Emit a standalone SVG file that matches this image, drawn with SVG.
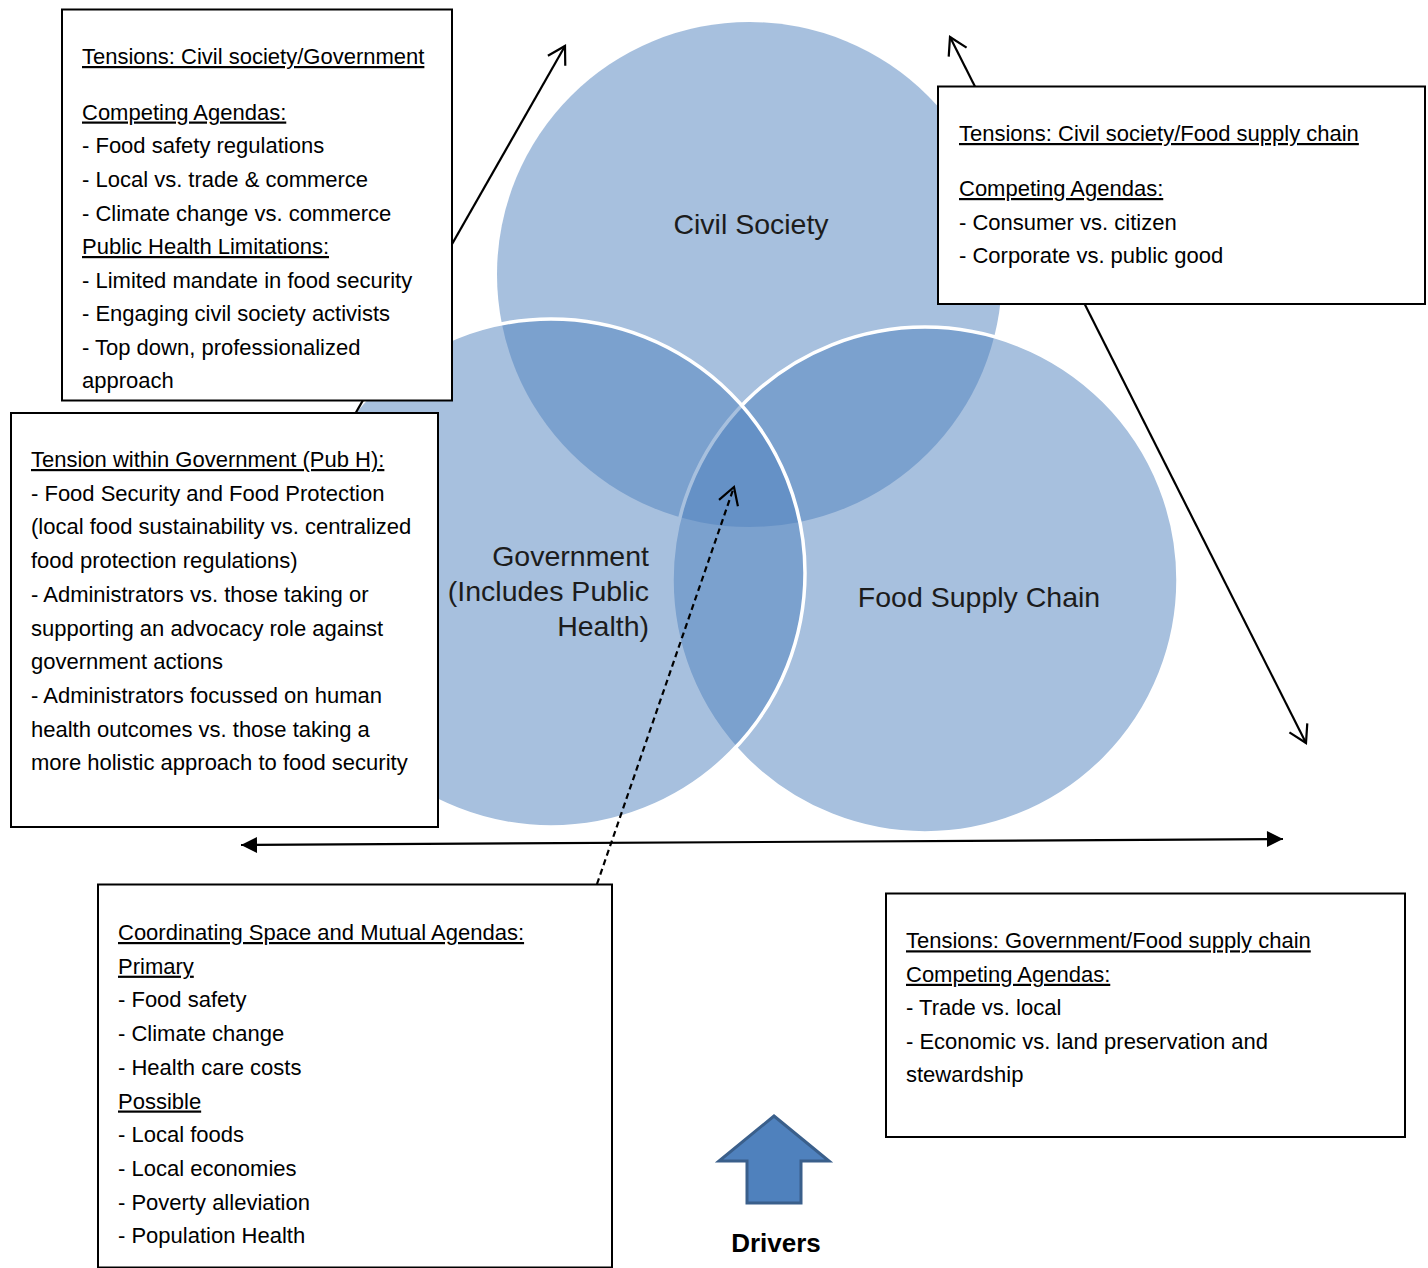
<svg xmlns="http://www.w3.org/2000/svg" width="1428" height="1268" viewBox="0 0 1428 1268">
  <style>
    .venn { fill: #4F81BD; fill-opacity: 0.5; }
    .outl { stroke: #FFFFFF; stroke-width: 3.5; }
    .clabel { font-family: "Liberation Sans", Arial, sans-serif; font-size: 28.5px; fill: #1C1C1C; }
    .box { fill: #FFFFFF; stroke: #000000; stroke-width: 2; }
    .t { font-family: "Liberation Sans", Arial, sans-serif; font-size: 22px; fill: #000000; }
    .u { text-decoration: underline; }
    .conn { fill: none; stroke: #000000; stroke-width: 2.2; }
    .dash { stroke-dasharray: 6 4; }
  </style>
  <defs>
    <marker id="openArrow" viewBox="-20 -12 24 24" refX="0" refY="0" markerWidth="24" markerHeight="24" markerUnits="userSpaceOnUse" orient="auto-start-reverse">
      <path d="M-17,-10 L0,0 L-17,10" fill="none" stroke="#000000" stroke-width="2.2"/>
    </marker>
    <marker id="solidArrow" viewBox="-18 -10 20 20" refX="0" refY="0" markerWidth="20" markerHeight="20" markerUnits="userSpaceOnUse" orient="auto-start-reverse">
      <path d="M-16,-8 L0,0 L-16,8 Z" fill="#000000"/>
    </marker>
  </defs>

  <!-- Venn circles -->
  <g id="civil-society">
    <circle class="venn" cx="749.5" cy="274.5" r="252.5"/>
    <text class="clabel" x="751" y="234" text-anchor="middle">Civil Society</text>
  </g>
  <g id="food-supply-chain">
    <circle class="venn outl" cx="925" cy="580" r="253"/>
  </g>
  <g id="government">
    <circle class="venn outl" cx="551" cy="573" r="254"/>
  </g>
  <g id="venn-labels">
    <text class="clabel" x="979" y="607" text-anchor="middle">Food Supply Chain</text>
    <text class="clabel" x="649" y="566" text-anchor="end">Government</text>
    <text class="clabel" x="649" y="601" text-anchor="end">(Includes Public</text>
    <text class="clabel" x="649" y="636" text-anchor="end">Health)</text>
  </g>

  <!-- Connectors -->
  <g id="connectors">
    <line class="conn" x1="192" y1="700" x2="565" y2="46" marker-end="url(#openArrow)"/>
    <line class="conn" x1="950" y1="37" x2="1306" y2="743" marker-start="url(#openArrow)" marker-end="url(#openArrow)"/>
    <line class="conn" x1="241" y1="845" x2="1283" y2="839" marker-start="url(#solidArrow)" marker-end="url(#solidArrow)"/>
    <line class="conn dash" x1="597" y1="884" x2="734" y2="487" marker-end="url(#openArrow)"/>
  </g>

  <!-- Text boxes -->
  <g id="box-civil-government">
    <rect class="box" x="62" y="9.5" width="390" height="391"/>
    <text class="t">
      <tspan class="u" x="82" y="64">Tensions: Civil society/Government</tspan>
      <tspan class="u" x="82" y="119.5">Competing Agendas:</tspan>
      <tspan x="82" y="153">- Food safety regulations</tspan>
      <tspan x="82" y="187">- Local vs. trade &amp; commerce</tspan>
      <tspan x="82" y="220.5">- Climate change vs. commerce</tspan>
      <tspan class="u" x="82" y="254">Public Health Limitations:</tspan>
      <tspan x="82" y="287.5">- Limited mandate in food security</tspan>
      <tspan x="82" y="321">- Engaging civil society activists</tspan>
      <tspan x="82" y="354.5">- Top down, professionalized</tspan>
      <tspan x="82" y="388">approach</tspan>
    </text>
  </g>

  <g id="box-within-government">
    <rect class="box" x="11" y="413" width="427" height="414"/>
    <text class="t">
      <tspan class="u" x="31" y="467">Tension within Government (Pub H):</tspan>
      <tspan x="31" y="500.7">- Food Security and Food Protection</tspan>
      <tspan x="31" y="534.4">(local food sustainability vs. centralized</tspan>
      <tspan x="31" y="568.1">food protection regulations)</tspan>
      <tspan x="31" y="601.8">- Administrators vs. those taking or</tspan>
      <tspan x="31" y="635.5">supporting an advocacy role against</tspan>
      <tspan x="31" y="669.2">government actions</tspan>
      <tspan x="31" y="702.9">- Administrators focussed on human</tspan>
      <tspan x="31" y="736.6">health outcomes vs. those taking a</tspan>
      <tspan x="31" y="770.3">more holistic approach to food security</tspan>
    </text>
  </g>

  <g id="box-civil-food">
    <rect class="box" x="938" y="86.5" width="487" height="217.5"/>
    <text class="t">
      <tspan class="u" x="959" y="141">Tensions: Civil society/Food supply chain</tspan>
      <tspan class="u" x="959" y="196">Competing Agendas:</tspan>
      <tspan x="959" y="229.5">- Consumer vs. citizen</tspan>
      <tspan x="959" y="263">- Corporate vs. public good</tspan>
    </text>
  </g>

  <g id="box-coordinating">
    <rect class="box" x="98" y="884.5" width="514" height="383"/>
    <text class="t">
      <tspan class="u" x="118" y="940">Coordinating Space and Mutual Agendas:</tspan>
      <tspan class="u" x="118" y="973.7">Primary</tspan>
      <tspan x="118" y="1007.4">- Food safety</tspan>
      <tspan x="118" y="1041.1">- Climate change</tspan>
      <tspan x="118" y="1074.8">- Health care costs</tspan>
      <tspan class="u" x="118" y="1108.5">Possible</tspan>
      <tspan x="118" y="1142.2">- Local foods</tspan>
      <tspan x="118" y="1175.9">- Local economies</tspan>
      <tspan x="118" y="1209.6">- Poverty alleviation</tspan>
      <tspan x="118" y="1243.3">- Population Health</tspan>
    </text>
  </g>

  <g id="box-government-food">
    <rect class="box" x="886" y="893.5" width="519" height="243.5"/>
    <text class="t">
      <tspan class="u" x="906" y="948.3">Tensions: Government/Food supply chain</tspan>
      <tspan class="u" x="906" y="981.8">Competing Agendas:</tspan>
      <tspan x="906" y="1015.3">- Trade vs. local</tspan>
      <tspan x="906" y="1048.8">- Economic vs. land preservation and</tspan>
      <tspan x="906" y="1082.3">stewardship</tspan>
    </text>
  </g>

  <g id="drivers">
    <polygon points="774,1116 829,1161 801,1161 801,1203 747,1203 747,1161 719,1161" fill="#4F81BD" stroke="#3A5F8B" stroke-width="3" stroke-linejoin="miter"/>
    <text x="776" y="1252" text-anchor="middle" font-family="Liberation Sans, Arial, sans-serif" font-size="26" font-weight="bold" fill="#000000">Drivers</text>
  </g>
</svg>
